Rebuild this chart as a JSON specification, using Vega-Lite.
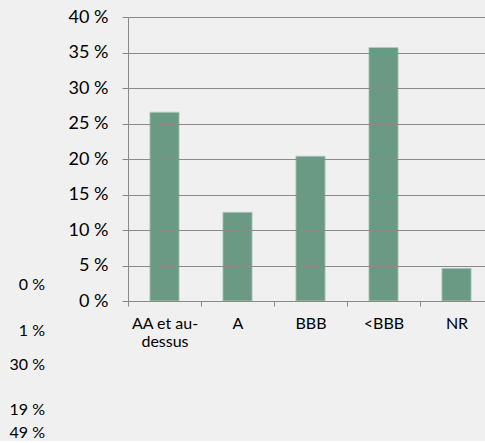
{
  "$schema": "https://vega.github.io/schema/vega-lite/v6.json",
  "background": "#f0f0f0",
  "padding": {"left": 0, "top": 8, "right": 0, "bottom": 0},
  "config": {"view": {"stroke": null}, "font": "Lato"},
  "spacing": 83,
  "bounds": "flush",
  "hconcat": [
    {
      "width": 45,
      "height": 284,
      "data": {"values": [
        {"label": "0 %", "row": 0},
        {"label": "1 %", "row": 4},
        {"label": "30 %", "row": 7},
        {"label": "19 %", "row": 11},
        {"label": "49 %", "row": 13}
      ]},
      "mark": {"type": "text", "align": "right", "baseline": "middle", "fontSize": 16, "color": "#000000"},
      "encoding": {
        "x": {"datum": 1, "type": "quantitative", "scale": {"domain": [0, 1]}, "axis": null},
        "y": {"field": "row", "type": "quantitative", "scale": {"domain": [0, 13], "range": [268, 416], "zero": false, "nice": false}, "axis": null},
        "text": {"field": "label"}
      }
    },
    {
      "width": 365,
      "height": 284,
      "data": {"values": [
        {"rating": "AA et au-dessus", "share": 26.6},
        {"rating": "A", "share": 12.5},
        {"rating": "BBB", "share": 20.4},
        {"rating": "<BBB", "share": 35.7},
        {"rating": "NR", "share": 4.6}
      ]},
      "mark": {"type": "bar", "color": "#6a9984", "stroke": "#b3cdc0", "strokeWidth": 0.8, "width": {"band": 0.4}},
      "encoding": {
        "x": {
          "field": "rating", "type": "nominal", "sort": null,
          "scale": {"paddingInner": 0, "paddingOuter": 0},
          "axis": {
            "title": null, "labelAngle": 0, "tickBand": "extent", "tickSize": 5, "tickColor": "#888888",
            "domainColor": "#888888", "labelFontSize": 16, "labelColor": "#000000", "labelPadding": 9,
            "labelLineHeight": 18, "labelBaseline": "top",
            "labelExpr": "datum.label == 'AA et au-dessus' ? ['AA et au-', 'dessus'] : datum.label"
          }
        },
        "y": {
          "field": "share", "type": "quantitative",
          "scale": {"domain": [0, 40], "nice": false},
          "axis": {
            "title": null, "values": [0, 5, 10, 15, 20, 25, 30, 35, 40], "labelExpr": "datum.value + ' %'",
            "grid": true, "gridColor": "#8a8a8a", "tickColor": "#888888", "domainColor": "#888888",
            "tickSize": 6, "labelPadding": 14, "labelFontSize": 18, "labelColor": "#000000", "zindex": 1
          }
        }
      }
    }
  ]
}
